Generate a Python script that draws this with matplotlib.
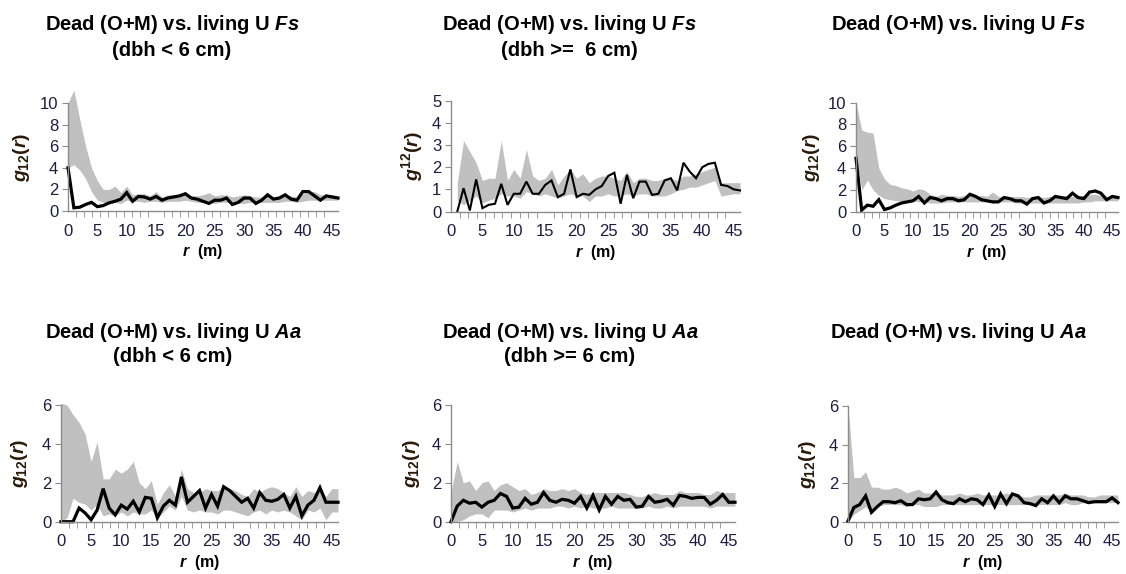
import numpy as np
import matplotlib
matplotlib.use("Agg")
import matplotlib.pyplot as plt
from matplotlib.ticker import MultipleLocator, FixedLocator

plt.rcParams['font.family'] = ['Liberation Sans', 'DejaVu Sans']
plt.rcParams['mathtext.fontset'] = 'custom'
plt.rcParams['mathtext.rm'] = 'Liberation Sans:bold'
plt.rcParams['mathtext.bf'] = 'Liberation Sans:bold'
plt.rcParams['mathtext.it'] = 'Liberation Sans:bold:italic'

# distance r (m)
r = list(range(47))
nan = np.nan

# top row: dead (O+M) vs living U Fs
obs1 = [4.0, 0.3, 0.35, 0.6, 0.8, 0.4, 0.5, 0.75, 0.9, 1.1,
        1.7, 0.9, 1.35, 1.3, 1.1, 1.35, 1.0, 1.2, 1.3, 1.4,
        1.6, 1.2, 1.1, 0.9, 0.7, 1.0, 1.0, 1.2, 0.6, 0.8,
        1.2, 1.2, 0.7, 1.0, 1.5, 1.1, 1.2, 1.5, 1.1, 1.0,
        1.8, 1.8, 1.4, 1.0, 1.4, 1.3, 1.2]
hi1 = [10.0, 11.2, 8.5, 6.0, 4.0, 2.8, 2.0, 2.0, 2.3, 1.7,
       2.3, 1.5, 1.6, 1.6, 1.4, 1.8, 1.3, 1.5, 1.5, 1.5,
       1.6, 1.4, 1.4, 1.5, 1.7, 1.4, 1.5, 1.5, 1.3, 1.4,
       1.5, 1.4, 1.3, 1.3, 1.4, 1.3, 1.4, 1.5, 1.4, 1.3,
       1.6, 1.8, 1.8, 1.5, 1.5, 1.5, 1.4]
lo1 = [4.0, 4.3, 3.8, 3.0, 1.8, 1.0, 0.8, 0.7, 0.8, 0.7,
       1.0, 0.9, 0.9, 0.8, 0.9, 0.9, 0.8, 0.9, 0.9, 0.9,
       1.0, 0.9, 0.8, 0.8, 0.8, 0.7, 0.8, 0.8, 0.7, 0.7,
       0.7, 0.8, 0.8, 0.8, 0.8, 0.8, 0.8, 0.9, 0.9, 0.8,
       0.9, 1.0, 1.0, 1.0, 1.0, 1.0, 1.0]

obs2 = [nan, 0.0, 1.05, 0.05, 1.45, 0.15, 0.3, 0.35, 1.25, 0.3,
        0.8, 0.8, 1.35, 0.8, 0.8, 1.2, 1.4, 0.65, 0.8, 1.9,
        0.65, 0.8, 0.75, 1.0, 1.15, 1.6, 1.75, 0.35, 1.65, 0.6,
        1.35, 1.35, 0.75, 0.8, 1.4, 1.5, 0.95, 2.2, 1.8, 1.5,
        2.0, 2.15, 2.2, 1.2, 1.15, 1.0, 0.95]
hi2 = [nan, 1.3, 3.2, 2.7, 2.2, 1.4, 1.5, 1.5, 3.2, 1.4,
       1.9, 1.5, 2.8, 1.6, 1.4, 1.5, 1.9, 1.2, 1.6, 1.9,
       1.5, 1.7, 1.3, 1.5, 1.6, 1.6, 1.5, 1.4, 1.8, 1.3,
       1.5, 1.5, 1.4, 1.4, 1.5, 1.5, 1.4, 1.6, 1.6, 1.7,
       1.8, 1.9, 2.0, 1.3, 1.3, 1.3, 1.3]
lo2 = [nan, 0.5, 0.3, 0.5, 0.7, 0.4, 0.5, 0.6, 0.8, 0.7,
       0.7, 0.6, 0.9, 0.8, 0.7, 0.8, 0.7, 0.6, 0.7, 0.8,
       0.7, 0.7, 0.45, 0.7, 0.7, 0.8, 0.7, 0.7, 0.8, 0.7,
       0.8, 0.8, 0.7, 0.7, 0.7, 0.8, 0.95, 1.0, 1.1, 1.1,
       1.2, 1.3, 1.4, 0.7, 0.75, 0.8, 0.8]

obs3 = [4.9, 0.15, 0.6, 0.5, 1.1, 0.2, 0.35, 0.6, 0.8, 0.9,
        1.0, 1.4, 0.8, 1.3, 1.2, 1.0, 1.2, 1.2, 1.0, 1.1,
        1.6, 1.4, 1.1, 1.0, 0.9, 0.9, 1.3, 1.2, 1.0, 1.0,
        0.7, 1.2, 1.3, 0.8, 1.0, 1.4, 1.3, 1.2, 1.7, 1.3,
        1.2, 1.8, 1.9, 1.7, 1.1, 1.4, 1.3]
hi3 = [10.0, 7.5, 7.3, 7.2, 4.0, 3.0, 2.5, 2.4, 2.2, 2.1,
       1.9, 2.1, 2.0, 1.6, 1.4, 1.6, 1.5, 1.5, 1.4, 1.5,
       1.5, 1.4, 1.5, 1.4, 1.8, 1.4, 1.4, 1.4, 1.4, 1.4,
       1.3, 1.4, 1.4, 1.3, 1.4, 1.4, 1.4, 1.5, 1.4, 1.4,
       1.5, 1.6, 1.6, 1.5, 1.4, 1.4, 1.4]
lo3 = [4.9, 2.0, 2.9, 2.0, 1.5, 1.2, 1.1, 1.0, 1.0, 1.0,
       1.0, 0.9, 0.9, 0.8, 0.8, 0.8, 0.9, 0.9, 0.9, 0.9,
       0.9, 0.9, 0.9, 0.9, 0.8, 0.9, 0.9, 0.9, 0.8, 0.8,
       0.8, 0.8, 0.8, 0.8, 0.8, 0.8, 0.8, 0.8, 0.8, 0.8,
       0.9, 0.9, 1.0, 1.0, 1.0, 1.0, 1.0]

# bottom row: dead (O+M) vs living U Aa
obs4 = [0.0, 0.0, 0.0, 0.7, 0.45, 0.1, 0.6, 1.7, 0.7, 0.35,
        0.85, 0.65, 1.05, 0.5, 1.25, 1.2, 0.2, 0.8, 1.1, 0.85,
        2.3, 1.0, 1.3, 1.6, 0.7, 1.4, 0.8, 1.8, 1.6, 1.3,
        1.0, 1.2, 0.7, 1.5, 1.1, 1.05, 1.15, 1.4, 0.7, 1.3,
        0.3, 0.85, 1.1, 1.75, 1.0, 1.0, 1.0]
hi4 = [6.1, 6.0, 5.5, 5.1, 4.5, 3.1, 4.1, 2.2, 2.2, 2.7,
       2.5, 2.7, 3.1, 2.0, 1.7, 2.1, 0.9, 1.5, 1.9, 1.3,
       2.7, 1.7, 1.5, 1.5, 1.7, 1.6, 1.6, 1.8, 1.7, 1.6,
       1.4, 1.3, 1.7, 1.5, 1.7, 1.8, 1.7, 1.5, 1.3, 1.8,
       1.3, 1.6, 1.5, 1.7, 1.3, 1.7, 1.7]
lo4 = [0.0, 0.2, 1.2, 1.0, 0.9, 0.6, 0.9, 0.3, 0.4, 0.3,
       0.5, 0.3, 0.5, 0.4, 0.4, 0.6, 0.2, 0.5, 0.8, 0.6,
       1.3, 0.6, 0.5, 0.6, 0.5, 0.5, 0.4, 0.6, 0.6, 0.5,
       0.4, 0.3, 0.5, 0.6, 0.4, 0.6, 0.5, 0.6, 0.5, 0.3,
       0.1, 0.6, 0.5, 0.7, 0.1, 0.5, 0.5]

obs5 = [0.0, 0.8, 1.1, 0.95, 1.0, 0.75, 1.0, 1.1, 1.45, 1.3,
        0.7, 0.75, 1.2, 0.9, 1.0, 1.5, 1.1, 1.0, 1.15, 1.1,
        0.95, 1.3, 0.7, 1.35, 0.6, 1.3, 0.9, 1.3, 1.1, 1.15,
        0.75, 0.8, 1.3, 1.0, 1.05, 1.15, 0.85, 1.35, 1.3, 1.2,
        1.25, 1.25, 0.9, 1.1, 1.4, 1.0, 1.0]
hi5 = [1.5, 3.1, 2.0, 2.1, 1.6, 2.0, 2.1, 1.6, 1.9, 2.0,
       1.8, 1.6, 1.7, 1.4, 1.5, 1.7, 1.6, 1.6, 1.7, 1.6,
       1.7, 1.5, 1.4, 1.5, 1.5, 1.5, 1.5, 1.5, 1.5, 1.4,
       1.3, 1.3, 1.4, 1.5, 1.4, 1.4, 1.4, 1.6, 1.5, 1.5,
       1.5, 1.4, 1.4, 1.6, 1.5, 1.5, 1.5]
lo5 = [0.0, 0.0, 0.1, 0.3, 0.4, 0.4, 0.2, 0.6, 0.6, 0.6,
       0.5, 0.6, 0.7, 0.6, 0.7, 0.7, 0.7, 0.8, 0.8, 0.7,
       0.8, 0.7, 0.8, 0.7, 0.7, 0.7, 0.8, 0.7, 0.7, 0.7,
       0.7, 0.7, 0.8, 0.7, 0.7, 0.8, 0.7, 0.8, 0.8, 0.8,
       0.8, 0.8, 0.7, 0.8, 0.8, 0.8, 0.8]

obs6 = [0.05, 0.75, 0.9, 1.35, 0.5, 0.8, 1.05, 1.05, 1.0, 1.1,
        0.9, 0.9, 1.2, 1.15, 1.2, 1.55, 1.15, 1.0, 0.95, 1.2,
        1.05, 1.2, 1.15, 0.9, 1.4, 0.8, 1.45, 0.95, 1.45, 1.35,
        1.0, 0.95, 0.85, 1.2, 1.0, 1.35, 1.0, 1.35, 1.2, 1.2,
        1.1, 1.0, 1.05, 1.05, 1.05, 1.25, 1.0]
hi6 = [6.0, 2.3, 2.3, 2.6, 1.8, 1.8, 1.7, 1.7, 1.8, 1.7,
       1.5, 1.6, 1.7, 1.5, 1.5, 1.5, 1.4, 1.4, 1.4, 1.5,
       1.4, 1.4, 1.5, 1.4, 1.4, 1.4, 1.4, 1.5, 1.4, 1.4,
       1.3, 1.3, 1.4, 1.4, 1.4, 1.4, 1.4, 1.5, 1.4, 1.4,
       1.4, 1.3, 1.3, 1.4, 1.4, 1.4, 1.4]
lo6 = [0.0, 0.4, 0.6, 0.8, 0.5, 0.8, 0.9, 0.9, 0.9, 0.9,
       0.8, 0.9, 0.9, 0.8, 0.8, 0.8, 0.9, 0.9, 0.9, 0.9,
       0.9, 0.9, 0.9, 0.9, 0.9, 0.9, 0.9, 0.9, 0.9, 0.9,
       0.9, 0.9, 0.9, 0.9, 0.9, 0.9, 0.9, 1.0, 0.9, 0.9,
       1.0, 1.0, 1.0, 1.0, 1.0, 1.0, 1.0]

title_fs = ['Dead (O+M) vs. living U $\\mathit{Fs}$', '(dbh < 6 cm)']
title_fs2 = ['Dead (O+M) vs. living U $\\mathit{Fs}$', '(dbh >=  6 cm)']
title_aa = ['Dead (O+M) vs. living U $\\mathit{Aa}$', '(dbh < 6 cm)']
title_aa2 = ['Dead (O+M) vs. living U $\\mathit{Aa}$', '(dbh >= 6 cm)']

W, H = 1126, 574
fig = plt.figure(figsize=(W / 100, H / 100), dpi=100)

# panel boxes in pixels: left, right, bottom(y0), top(ytop)
panels = [
    dict(box=(68, 338, 211, 103), obs=obs1, hi=hi1, lo=lo1, ymax=10, ystep=2,
         ylab='$g_{12}(r)$', ylx=22, lw=2.3, title=title_fs, tx=172, ty=25, xl=41),
    dict(box=(451, 740, 211.5, 100.7), obs=obs2, hi=hi2, lo=lo2, ymax=5, ystep=1,
         ylab='$g^{12}(r)$', ylx=412, lw=1.5, title=title_fs2, tx=569, ty=25, xl=41),
    dict(box=(856, 1118, 211.7, 102.7), obs=obs3, hi=hi3, lo=lo3, ymax=10, ystep=2,
         ylab='$g_{12}(r)$', ylx=812, lw=2.3, title=title_fs[:1], tx=958, ty=25, xl=41),
    dict(box=(61, 338, 521.7, 405), obs=obs4, hi=hi4, lo=lo4, ymax=6, ystep=2,
         ylab='$g_{12}(r)$', ylx=20, lw=2.3, title=title_aa, tx=173, ty=332, xl=41),
    dict(box=(451, 735, 521.7, 405), obs=obs5, hi=hi5, lo=lo5, ymax=6, ystep=2,
         ylab='$g_{12}(r)$', ylx=412, lw=2.3, title=title_aa2, tx=570, ty=332, xl=41),
    dict(box=(848, 1118, 522, 406), obs=obs6, hi=hi6, lo=lo6, ymax=6, ystep=2,
         ylab='$g_{12}(r)$', ylx=808, lw=2.3, title=title_aa2[:1], tx=958, ty=332, xl=41),
]

axis_col = '#8c8c8c'
tick_col = '#1c1c40'

for p in panels:
    x0, x1, yb, yt = p['box']
    ax = fig.add_axes([x0 / W, 1 - yb / H, (x1 - x0) / W, (yb - yt) / H])
    ax.fill_between(r, p['lo'], p['hi'], color='#c0c0c0', lw=0, clip_on=False)
    ax.plot(r, p['obs'], color='black', lw=p['lw'], clip_on=False, solid_joinstyle='miter')
    ax.set_xlim(0, 46)
    ax.set_ylim(0, p['ymax'])

    for s in ['top', 'right']:
        ax.spines[s].set_visible(False)
    for s in ['left', 'bottom']:
        ax.spines[s].set_color(axis_col)
        ax.spines[s].set_linewidth(1.0)

    ax.xaxis.set_major_locator(FixedLocator(range(0, 46, 5)))
    ax.xaxis.set_minor_locator(MultipleLocator(45 / 33))
    ax.yaxis.set_major_locator(MultipleLocator(p['ystep']))
    ax.tick_params(axis='x', which='major', length=0, pad=9, labelsize=12, labelcolor=tick_col)
    ax.tick_params(axis='x', which='minor', length=4, color=axis_col, direction='out')
    ax.tick_params(axis='y', which='major', length=4, color=axis_col, pad=3,
                   labelsize=12, labelcolor=tick_col)

    cx = (x0 + x1) / 2
    fig.text(cx / W, 1 - (yb + p['xl']) / H, '$r$  (m)', ha='center', va='center',
             fontsize=11.5, fontweight='bold')
    fig.text(p['ylx'] / W, 1 - ((yb + yt) / 2) / H, p['ylab'], rotation=90,
             ha='center', va='center', fontsize=14, color='#2a1a0a')

    for i, line in enumerate(p['title']):
        fig.text(p['tx'] / W, 1 - (p['ty'] + 25 * i) / H, line, ha='center', va='center',
                 fontsize=14.5, fontweight='bold')

fig.savefig('out.png', dpi=100)
